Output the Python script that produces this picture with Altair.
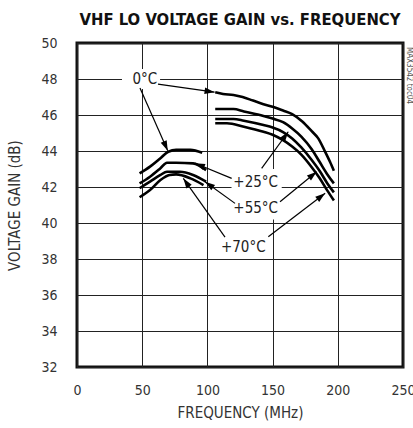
import math
import altair as alt
import pandas as pd

FONT = "Liberation Sans Narrow, DejaVu Sans Condensed, Roboto, sans-serif"
W, H = 326, 324
X_MAX, Y_MIN, Y_MAX = 250, 32, 50

# Gain curves: one low band (50-100 MHz) and one high band (105-197 MHz) per temperature
temps = ["0°C", "+25°C", "+55°C", "+70°C"]

low_freq = {
    "0°C":   [48, 56, 64, 70, 76, 87, 96],
    "+25°C": [48, 56, 64, 69, 76, 89, 99],
    "+55°C": [48, 56, 64, 69, 79, 89, 99],
    "+70°C": [48, 56, 64, 71, 76, 87, 97],
}
low_gain = {
    "0°C":   [42.76, 43.13, 43.60, 43.96, 44.06, 44.06, 43.90],
    "+25°C": [42.20, 42.57, 43.04, 43.35, 43.35, 43.31, 42.94],
    "+55°C": [41.93, 42.30, 42.67, 42.85, 42.85, 42.67, 42.30],
    "+70°C": [41.43, 41.83, 42.39, 42.67, 42.70, 42.48, 42.11],
}
high_freq = {
    "0°C":   [106, 112, 120, 127, 135, 143, 150, 158, 165, 173, 180, 185, 190, 194, 197],
    "+25°C": [106, 120, 128, 143, 150, 158, 165, 172, 180, 186, 192, 197],
    "+55°C": [106, 120, 128, 143, 150, 158, 165, 172, 180, 186, 192, 197],
    "+70°C": [106, 115, 128, 143, 150, 158, 165, 172, 180, 186, 192, 197],
}
high_gain = {
    "0°C":   [47.26, 47.17, 47.11, 47.00, 46.80, 46.60, 46.46, 46.25, 46.05, 45.63, 45.10, 44.70, 44.00, 43.40, 42.90],
    "+25°C": [46.33, 46.33, 46.20, 45.95, 45.80, 45.60, 45.25, 44.80, 44.10, 43.40, 42.70, 42.20],
    "+55°C": [45.78, 45.78, 45.68, 45.44, 45.30, 45.05, 44.70, 44.20, 43.50, 42.90, 42.20, 41.70],
    "+70°C": [45.54, 45.54, 45.35, 45.07, 44.90, 44.60, 44.25, 43.80, 43.10, 42.50, 41.80, 41.25],
}

# Temperature labels (centre position) and the white boxes behind them
label_text = ["0°C", "+25°C", "+55°C", "+70°C"]
label_freq = [52.0, 137.0, 137.0, 127.5]
label_gain = [48.0, 42.3, 40.85, 38.65]
box_f1 = [34.5, 118.5, 118.5, 108.0]
box_f2 = [63.7, 157.0, 157.0, 146.5]
box_g1 = [47.45, 41.55, 40.2, 38.0]
box_g2 = [48.55, 43.0, 41.55, 39.3]

# Leader arrows: start (near a label) -> tip (on a curve)
arrow_f1 = [62.1, 48.3, 118.6, 141.6, 121.2, 155.7, 113.5, 146.7]
arrow_g1 = [47.72, 47.50, 42.48, 43.04, 41.09, 41.18, 39.22, 39.24]
arrow_f2 = [105.5, 69.6, 90.5, 162.0, 98.2, 183.8, 81.5, 190.3]
arrow_g2 = [47.27, 44.02, 43.32, 45.07, 42.29, 42.85, 42.48, 41.65]

rows = []
for t in temps:
    for f, g in zip(low_freq[t], low_gain[t]):
        rows.append({"temp": t, "seg": t + "-low", "freq": f, "gain": g})
    for f, g in zip(high_freq[t], high_gain[t]):
        rows.append({"temp": t, "seg": t + "-high", "freq": f, "gain": g})
curves = pd.DataFrame(rows)

labels = pd.DataFrame({"text": label_text, "freq": label_freq, "gain": label_gain,
                       "f1": box_f1, "f2": box_f2, "g1": box_g1, "g2": box_g2})

angles = []
for a, b, c, d in zip(arrow_f1, arrow_g1, arrow_f2, arrow_g2):
    dx = (c - a) * W / X_MAX
    dy = -(d - b) * H / (Y_MAX - Y_MIN)
    angles.append(math.degrees(math.atan2(dy, dx)) % 360)
arrows = pd.DataFrame({"f1": arrow_f1, "g1": arrow_g1, "f2": arrow_f2, "g2": arrow_g2,
                       "angle": angles})

x_ticks = list(range(0, 251, 50))
y_ticks = list(range(32, 51, 2))

xs = alt.Scale(domain=[0, X_MAX], nice=False)
ys = alt.Scale(domain=[Y_MIN, Y_MAX], nice=False)
x_axis = alt.Axis(values=x_ticks, title="FREQUENCY (MHz)", labelOverlap=False, labelFlush=False)
y_axis = alt.Axis(values=y_ticks, title="VOLTAGE GAIN (dB)", labelOverlap=False, labelFlush=False)


def X(field):
    return alt.X(field, scale=xs, axis=x_axis)


def Y(field):
    return alt.Y(field, scale=ys, axis=y_axis)


boxes = alt.Chart(labels).mark_rect(color="white").encode(
    x=X("f1:Q"), x2="f2:Q", y=Y("g1:Q"), y2="g2:Q",
)

lines = alt.Chart(curves).mark_line(color="black", strokeWidth=2.6, interpolate="monotone").encode(
    x=X("freq:Q"), y=Y("gain:Q"), detail="seg:N", order="freq:Q",
)

leaders = alt.Chart(arrows).mark_rule(color="black", strokeWidth=1.2).encode(
    x=X("f1:Q"), y=Y("g1:Q"), x2="f2:Q", y2="g2:Q",
)

heads = alt.Chart(arrows).mark_point(
    shape="M0,0L-2,-0.65L-2,0.65Z", filled=True, color="black", opacity=1, size=100
).encode(
    x=X("f2:Q"), y=Y("g2:Q"), angle=alt.Angle("angle:Q", scale=None),
)

texts = alt.Chart(labels).mark_text(font=FONT, fontSize=15, color="#222").encode(
    x=X("freq:Q"), y=Y("gain:Q"), text="text:N",
)

docid = alt.Chart(pd.DataFrame({"t": ["MAX3542 toc04"]})).mark_text(
    font=FONT, fontSize=8, color="#555", angle=90, align="left", baseline="middle"
).encode(x=alt.value(W + 6), y=alt.value(4), text="t:N")

chart = alt.layer(boxes, lines, leaders, heads, texts, docid).properties(
    width=W, height=H,
    autosize="none",
    padding={"left": 77, "top": 43, "right": 10, "bottom": 61},
    title=alt.TitleParams("VHF LO VOLTAGE GAIN vs. FREQUENCY", font=FONT, fontSize=16.5,
                          fontWeight="bold", color="#111", anchor="middle", offset=8),
).configure_view(
    stroke="#111", strokeWidth=3
).configure_axis(
    grid=True, gridColor="#222", gridWidth=1, gridOpacity=1,
    domain=False, ticks=False,
    labelFont=FONT, labelFontSize=14, labelColor="#333",
    titleFont=FONT, titleFontSize=15, titleFontWeight="normal", titleColor="#333",
).configure_axisX(
    labelPadding=16, titlePadding=8,
).configure_axisY(
    labelPadding=20, titlePadding=18,
)

chart.save("out.html", embed_options={"renderer": "svg", "actions": False})
